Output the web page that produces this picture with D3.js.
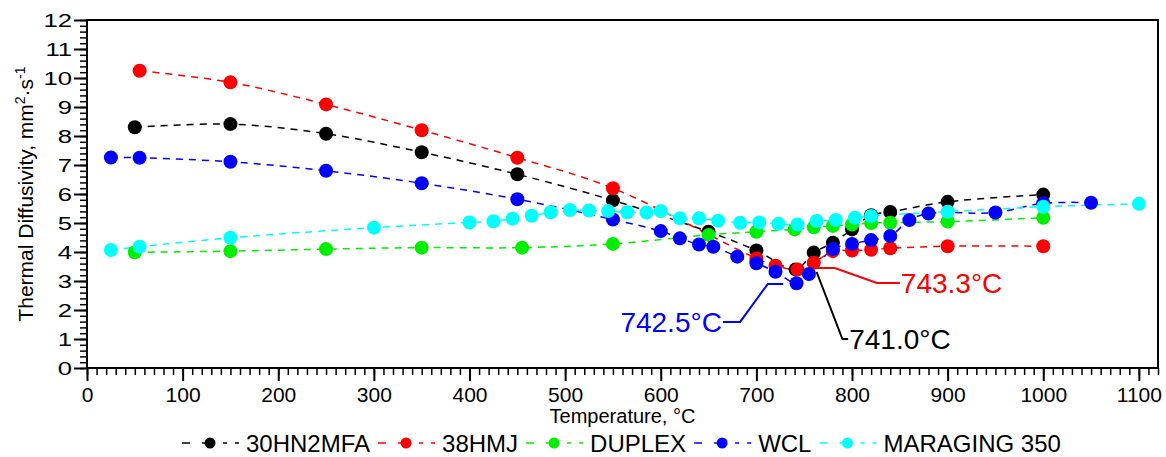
<!DOCTYPE html>
<html><head><meta charset="utf-8">
<script src="https://cdn.jsdelivr.net/npm/d3@7"></script>
<style>
body{margin:0;background:#fff;}
text{font-family:Arial,"Liberation Sans",sans-serif;}
</style></head>
<body><svg id="chart" width="1166" height="457"></svg>
<script>
// ---- data ----
const seriesNames = ["30HN2MFA","38HMJ","DUPLEX","WCL","MARAGING 350"];
const seriesColors = ["#000000","#ff0000","#00ee00","#0000ff","#00ffff"];

const t30HN2MFA = [50,150,250,350,450,550,650,700,741,760,780,800,820,840,900,1000];
const v30HN2MFA = [8.30,8.41,8.08,7.44,6.68,5.78,4.70,4.05,3.40,3.98,4.32,4.78,5.27,5.38,5.73,5.98];

const t38HMJ = [55,150,250,350,450,550,700,720,743,760,780,800,820,840,900,1000];
const v38HMJ = [10.25,9.85,9.09,8.20,7.25,6.20,3.78,3.53,3.40,3.63,4.03,4.05,4.08,4.13,4.20,4.20];

const tDUPLEX = [50,150,250,350,455,550,650,700,740,760,780,800,820,840,900,1000];
const vDUPLEX = [3.99,4.03,4.10,4.15,4.15,4.28,4.59,4.70,4.78,4.85,4.90,4.95,5.00,5.01,5.05,5.18];

const tWCL = [25,55,150,250,350,450,550,600,620,640,655,680,700,720,742,755,780,800,820,840,860,880,950,1000,1050];
const vWCL = [7.26,7.25,7.11,6.80,6.37,5.82,5.12,4.72,4.47,4.26,4.18,3.84,3.61,3.32,2.92,3.24,4.10,4.28,4.41,4.55,5.10,5.33,5.36,5.68,5.70];

const tMARAGING = [25,55,150,300,400,425,445,465,485,505,525,545,565,585,600,620,640,660,683,703,723,743,763,783,803,820,900,1000,1100];
const vMARAGING = [4.07,4.18,4.49,4.84,5.02,5.06,5.15,5.25,5.37,5.45,5.43,5.41,5.37,5.36,5.41,5.16,5.16,5.08,5.01,5.02,4.97,4.95,5.07,5.10,5.18,5.24,5.39,5.56,5.66];

const xTicks = [0,100,200,300,400,500,600,700,800,900,1000,1100];
const yTicks = [0,1,2,3,4,5,6,7,8,9,10,11,12];

const annotations = [
  {label:"742.5°C", color:"#0000ff", pts:[[728,2.9],[712,2.9],[683,1.59],[665,1.59]], anchor:"end"},
  {label:"743.3°C", color:"#ff0000", pts:[[763,3.45],[782,3.45],[826,2.93],[850,2.93]], anchor:"start"},
  {label:"741.0°C", color:"#000000", pts:[[763,3.31],[790,1.0],[796,1.0]], anchor:"start"}
];

// ---- chart ----
const svg = d3.select("#chart");
const L=87, R=1158, T=20, B=368;
const x = d3.scaleLinear().domain([0,1120]).range([L,R]);
const y = d3.scaleLinear().domain([0,12]).range([B,T]);

const series = [
  {t:t30HN2MFA, v:v30HN2MFA},
  {t:t38HMJ, v:v38HMJ},
  {t:tDUPLEX, v:vDUPLEX},
  {t:tWCL, v:vWCL},
  {t:tMARAGING, v:vMARAGING}
].map((s,i)=>({name:seriesNames[i], color:seriesColors[i], pts:s.t.map((tt,j)=>[tt,s.v[j]])}));

// frame
svg.append("rect").attr("x",L).attr("y",T).attr("width",R-L).attr("height",B-T)
  .attr("fill","none").attr("stroke","#000").attr("stroke-width",2);

// x axis
const xMinor = d3.range(0,1121,10);
svg.append("g").attr("transform",`translate(0,${B})`)
  .call(d3.axisBottom(x).tickValues(xMinor).tickSize(7).tickFormat(""))
  .call(g=>g.select(".domain").remove())
  .call(g=>g.selectAll("line").attr("stroke-width",1.5));
svg.append("g").attr("transform",`translate(0,${B})`)
  .call(d3.axisBottom(x).tickValues(xTicks).tickSize(13).tickPadding(6).tickFormat(d3.format("d")))
  .call(g=>g.select(".domain").remove())
  .call(g=>g.selectAll("line").attr("stroke-width",2))
  .call(g=>g.selectAll("text").attr("font-size",21).attr("font-family","Arial, Liberation Sans").attr("fill","#000"));

// y axis
const yMinor = d3.range(0,12.01,0.2);
svg.append("g").attr("transform",`translate(${L},0)`)
  .call(d3.axisLeft(y).tickValues(yMinor).tickSize(7).tickFormat(""))
  .call(g=>g.select(".domain").remove())
  .call(g=>g.selectAll("line").attr("stroke-width",1.5));
const ySx = 1.35;
svg.append("g").attr("transform",`translate(${L},0)`)
  .call(d3.axisLeft(y).tickValues(yTicks).tickSize(13))
  .call(g=>g.select(".domain").remove())
  .call(g=>g.selectAll("line").attr("stroke-width",2))
  .call(g=>g.selectAll("text").attr("font-size",19).attr("font-family","Arial, Liberation Sans")
    .attr("fill","#000").attr("x",-15/ySx).attr("transform",`scale(${ySx},1)`));

// axis titles
svg.append("text").attr("x",(L+R)/2).attr("y",423).attr("text-anchor","middle")
  .attr("font-size",20).text("Temperature, °C");
const yl = svg.append("text").attr("transform",`translate(33,${(T+B)/2}) rotate(-90)`)
  .attr("text-anchor","middle").attr("font-size",21);
yl.append("tspan").text("Thermal Diffusivity, mm");
yl.append("tspan").attr("baseline-shift","super").attr("font-size",14).text("2");
yl.append("tspan").text("·s");
yl.append("tspan").attr("baseline-shift","super").attr("font-size",14).text("-1");

// lines & markers
const line = d3.line().x(d=>x(d[0])).y(d=>y(d[1])).curve(d3.curveCatmullRom.alpha(0.5));
series.forEach(s=>{
  svg.append("path").datum(s.pts).attr("d",line).attr("fill","none")
    .attr("stroke",s.color).attr("stroke-width",1.5).attr("stroke-dasharray","7,6");
});
series.forEach(s=>{
  svg.append("g").selectAll("circle").data(s.pts).join("circle")
    .attr("cx",d=>x(d[0])).attr("cy",d=>y(d[1])).attr("r",7).attr("fill",s.color);
});

// annotations
annotations.forEach(a=>{
  svg.append("path").datum(a.pts).attr("d",d3.line().x(d=>x(d[0])).y(d=>y(d[1])))
    .attr("fill","none").attr("stroke",a.color).attr("stroke-width",2);
  const last = a.pts[a.pts.length-1];
  svg.append("text").attr("x",x(last[0])+(a.anchor==="end"?-1:1)).attr("y",y(last[1]))
    .attr("dy","0.36em").attr("text-anchor",a.anchor).attr("font-size",28)
    .attr("fill",a.color).text(a.label);
});

// legend
let lx = 182;
const ly = 443;
series.forEach(s=>{
  const g = svg.append("g");
  g.append("line").attr("x1",lx).attr("x2",lx+57).attr("y1",ly).attr("y2",ly)
    .attr("stroke",s.color).attr("stroke-width",1.5).attr("stroke-dasharray","8,12,9,12,4");
  g.append("circle").attr("cx",lx+28).attr("cy",ly).attr("r",5.5).attr("fill",s.color);
  const t = g.append("text").attr("x",lx+64).attr("y",ly).attr("dy","0.36em")
    .attr("font-size",24).attr("fill","#000").text(s.name);
  lx += 64 + t.node().getComputedTextLength() + 8;
});
</script></body></html>
